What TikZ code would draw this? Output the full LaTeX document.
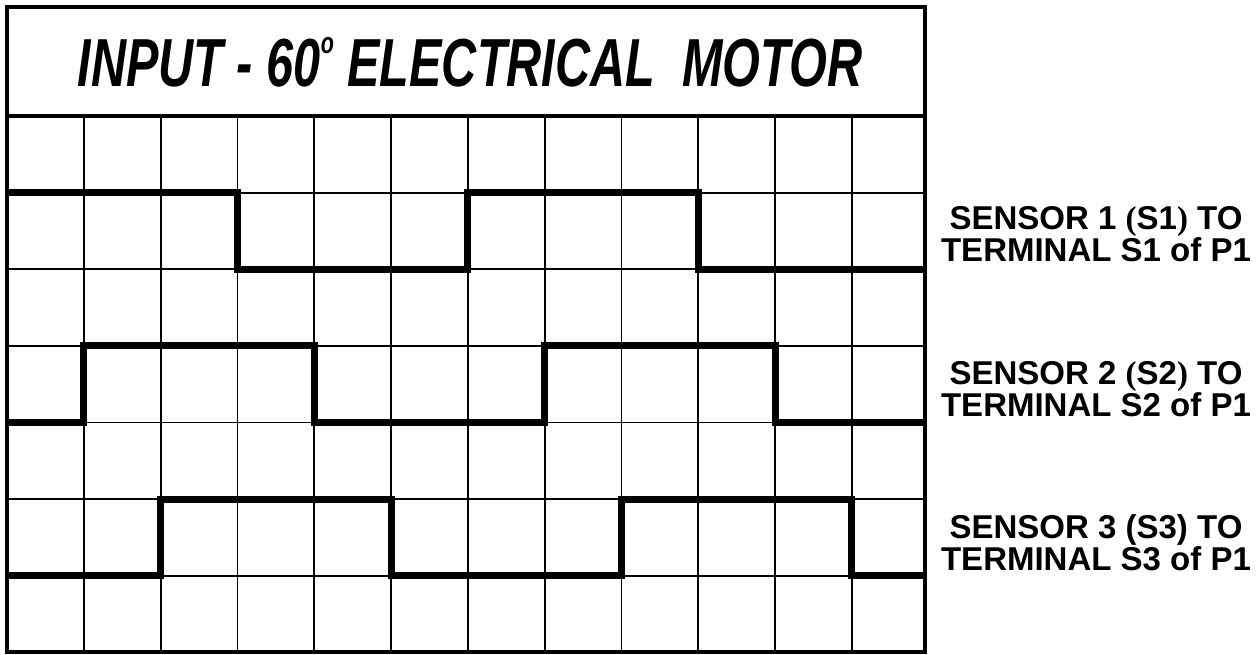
\documentclass[tikz,border=0pt]{standalone}
\usepackage{fontspec}
\setmainfont{Liberation Sans}
\newfontfamily\titlefont[FakeStretch=0.715]{Liberation Sans}
\newfontfamily\parenfont{Liberation Serif}
\usetikzlibrary{positioning}

\newcommand{\sparen}[1]{{\parenfont\bfseries(}#1{\parenfont\bfseries)}}
\newcommand{\degsup}{\raisebox{33pt}{\fontsize{30}{30}\selectfont o}}

\begin{document}
\begin{tikzpicture}[
            x=1pt, y=-1pt,
            frame/.style      ={draw=black, line width=4.5pt},
            gridline/.style   ={draw=black, line width=1.8pt},
            signal/.style     ={draw=black, line width=7pt, line join=miter},
            titletext/.style  ={font=\titlefont\bfseries\itshape\fontsize{68}{68}\selectfont,
                                inner sep=0pt, anchor=center},
            sensorlabel/.style={font=\bfseries\fontsize{33}{28}\selectfont,
                                align=center, inner sep=0pt}
        ]
        \useasboundingbox (0,0) rectangle (1260,654);
        \def\cw{76.8}
        \def\rh{76.6}

        % grid
        \begin{scope}[shift={(7,116)}]
        \foreach \i in {1,...,11}
            \draw[gridline] ({\i*\cw},0) -- ({\i*\cw},{7*\rh});
        \foreach \j in {1,...,6}
            \draw[gridline] (0,{\j*\rh}) -- (918,{\j*\rh});

        % sensor signals
        \draw[signal] (0,{\rh}) -- ({3*\cw},{\rh}) -- ({3*\cw},{2*\rh}) -- ({6*\cw},{2*\rh})
              -- ({6*\cw},{\rh}) -- ({9*\cw},{\rh}) -- ({9*\cw},{2*\rh}) -- (918,{2*\rh});
        \draw[signal] (0,{4*\rh}) -- ({\cw},{4*\rh}) -- ({\cw},{3*\rh}) -- ({4*\cw},{3*\rh})
              -- ({4*\cw},{4*\rh}) -- ({7*\cw},{4*\rh}) -- ({7*\cw},{3*\rh}) -- ({10*\cw},{3*\rh})
              -- ({10*\cw},{4*\rh}) -- (918,{4*\rh});
        \draw[signal] (0,{6*\rh}) -- ({2*\cw},{6*\rh}) -- ({2*\cw},{5*\rh}) -- ({5*\cw},{5*\rh})
              -- ({5*\cw},{6*\rh}) -- ({8*\cw},{6*\rh}) -- ({8*\cw},{5*\rh}) -- ({11*\cw},{5*\rh})
              -- ({11*\cw},{6*\rh}) -- (918,{6*\rh});
        \end{scope}

        % frame and title band
        \draw[frame] (7,7) rectangle (925,652);
        \draw[frame] (7,116) -- (925,116);
        \node[titletext] (title) at (470,62) {INPUT - 60\degsup\ ELECTRICAL\ \ MOTOR};

        % labels
        \node[sensorlabel] (lab1) at (1096,234) {SENSOR 1 \sparen{S1} TO\\TERMINAL S1 of P1};
        \node[sensorlabel] (lab2) at (1096,389) {SENSOR 2 \sparen{S2} TO\\TERMINAL S2 of P1};
        \node[sensorlabel] (lab3) at (1096,543) {SENSOR 3 (S3) TO\\TERMINAL S3 of P1};
        \end{tikzpicture}
\end{document}
